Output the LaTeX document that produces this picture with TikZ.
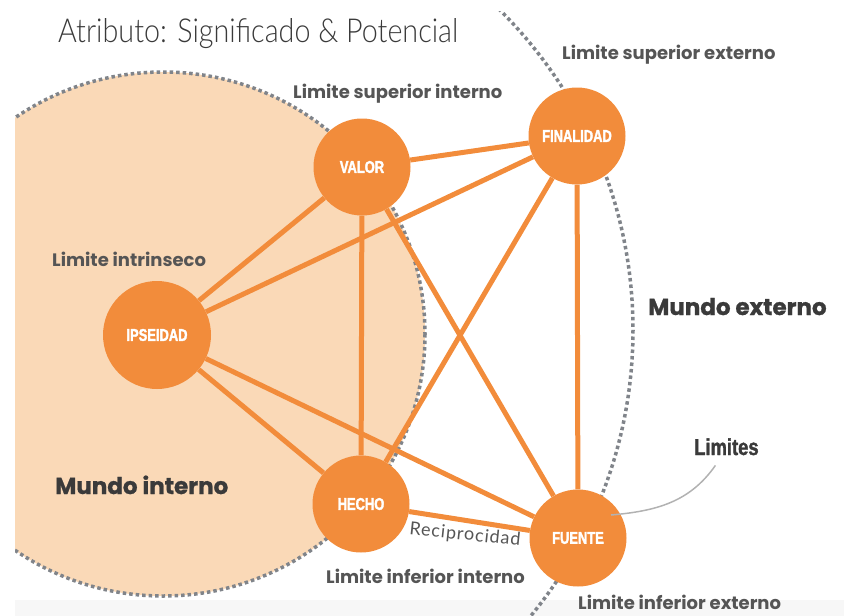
\documentclass[tikz,border=0pt]{standalone}
\usepackage{fontspec}
\newfontfamily\titlefont[FakeStretch=0.87]{Lato Light}
\newfontfamily\labelfont{Poppins Bold}
\newfontfamily\mundofont[FakeBold=1]{Poppins Bold}
\newfontfamily\recfont[LetterSpace=5]{Lato}
\newfontfamily\nodefont[FakeStretch=0.76,FakeBold=2]{Liberation Sans Bold}
\newfontfamily\limfont[FakeStretch=0.8,FakeBold=1.5]{Liberation Sans Bold}

\definecolor{nodeorange}{RGB}{242,140,59}
\definecolor{peach}{RGB}{250,217,183}
\definecolor{dotgray}{RGB}{128,132,138}
\definecolor{labelgray}{RGB}{85,85,85}
\definecolor{darkgray}{RGB}{58,58,58}
\definecolor{bandgray}{RGB}{247,247,247}

\tikzset{
  dotline/.style={dotgray,line width=3.5,dash pattern=on 3.5pt off 3pt},
  lim/.style={anchor=base west,inner sep=0,text=labelgray,font=\labelfont\fontsize{18}{18}\selectfont},
  mundo/.style={anchor=base west,inner sep=0,text=darkgray,font=\mundofont\fontsize{23}{23}\selectfont}
}

\begin{document}
\begin{tikzpicture}[x=1pt,y=-1pt]

        \useasboundingbox (0,0) rectangle (844,616);
        \fill[bandgray] (15,600) rectangle (844,616);

        % inner world
        \begin{scope}
          \clip (15,0) rectangle (844,616);
          \fill[peach] (163,334) circle[radius=262];
          \draw[dotline] (163,334) circle[radius=262];
        \end{scope}

        % outer world
        \begin{scope}
          \clip (15,11) rectangle (844,616);
          \draw[dotline] (182,330) circle[radius=451];
        \end{scope}

        \begin{scope}[every node/.style={circle,fill=nodeorange,text=white,minimum size=97,inner sep=0,font=\nodefont\fontsize{17}{17}\selectfont}]
          \node (valor)     at (362,167) {VALOR};
          \node (finalidad) at (577,136) {FINALIDAD};
          \node (ipseidad)  at (157,335) [minimum size=108] {IPSEIDAD};
          \node (hecho)     at (361,504) {HECHO};
          \node (fuente)    at (578,538) {FUENTE};
        \end{scope}

        \begin{scope}[every edge/.style={draw,nodeorange,line width=5}]
          \path (valor)    edge (finalidad);
          \path (ipseidad) edge (valor);
          \path (ipseidad) edge (finalidad);
          \path (valor)    edge (hecho);
          \path (valor)    edge (fuente);
          \path (finalidad) edge (hecho);
          \path (finalidad) edge (fuente);
          \path (ipseidad) edge (hecho);
          \path (ipseidad) edge (fuente);
          \path (hecho)    edge (fuente);
        \end{scope}

        \node[anchor=base west,inner sep=0,text=darkgray,font=\titlefont\fontsize{33}{33}\selectfont] (title) at (58,42) {Atributo: Significado \& Potencial};

        \node[lim] (supext) at (562,59)  {Limite superior externo};
        \node[lim] (supint) at (293,98)  {Limite superior interno};
        \node[lim] (intr)   at (52,266)  {Limite intrinseco};
        \node[lim] (infint) at (326,583) {Limite inferior interno};
        \node[lim] (infext) at (578,609) {Limite inferior externo};
        \node[mundo] (mint) at (55,494)  {Mundo interno};
        \node[mundo] (mext) at (648,315) {Mundo externo};

        \node[text=labelgray,inner sep=0,rotate=-6,font=\recfont\fontsize{18}{18}\selectfont] (recip) at (465,535) {Reciprocidad};

        \node[anchor=base west,inner sep=0,text=darkgray,font=\limfont\fontsize{23}{23}\selectfont] (limites) at (694,455) {Limites};
        \coordinate (tip) at (611,515);
        \draw[gray!60,line width=1.5] ([xshift=-11pt,yshift=-10pt]limites.south) to[out=235,in=5] (tip);

      \end{tikzpicture}
\end{document}
